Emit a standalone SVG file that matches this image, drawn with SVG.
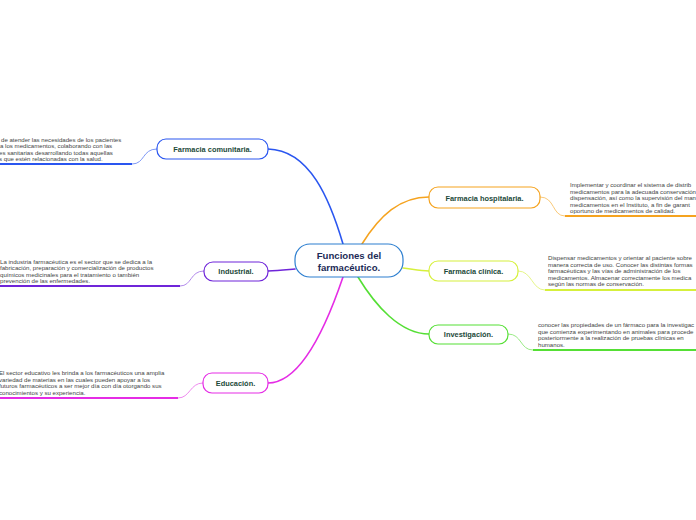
<svg xmlns="http://www.w3.org/2000/svg" width="696" height="520" viewBox="0 0 696 520">
<style>
.note{font-family:"Liberation Sans",Arial,sans-serif;font-size:6.1px;fill:#444}
.lbl{font-family:"Liberation Sans",Arial,sans-serif;font-size:7.4px;font-weight:bold;fill:#1c4a3a;text-anchor:middle}
.ctr{font-family:"Liberation Sans",Arial,sans-serif;font-size:9.6px;font-weight:bold;fill:#1d2b57;text-anchor:middle}
.box{fill:#fff;stroke-width:1.2}
.main{fill:none;stroke-width:1.6;stroke-linecap:round}
.thin{fill:none;stroke-width:0.9}
.ul{fill:none;stroke-width:1.8}
</style>
<rect width="696" height="520" fill="#fff"/>
<g id="connectors">
<path class="main" stroke="#2a56f0" d="M343,244 C330,200 310,150 268,149"/>
<path class="main" stroke="#f5a31f" d="M362,244 C380,215 400,197 429,197"/>
<path class="main" stroke="#6f25d9" d="M295,269 C285,270 278,271 268,271"/>
<path class="main" stroke="#e52ce5" d="M343,277 C325,330 300,383 268,383"/>
<path class="main" stroke="#d6f03c" d="M403,268 C412,269 420,271 429,271"/>
<path class="main" stroke="#55df35" d="M358,277 C375,305 400,334 429,334"/>
<path class="thin" stroke="#6f8cf3" d="M157,149 C142,149 145,164 132,164"/>
<path class="ul" stroke="#2a56f0" d="M0,164 L132,164"/>
<path class="thin" stroke="#a97de8" d="M204,271 C190,271 192,286 180,286"/>
<path class="ul" stroke="#6f25d9" d="M0,286 L180,286"/>
<path class="thin" stroke="#ec7cec" d="M203,383 C190,383 190,398 178,398"/>
<path class="ul" stroke="#e52ce5" d="M0,398 L178,398"/>
<path class="thin" stroke="#f8c36a" d="M540,197 C555,197 552,216 565,216"/>
<path class="ul" stroke="#f5a31f" d="M565,216 L696,216"/>
<path class="thin" stroke="#e2f47a" d="M518,271 C532,271 532,290 545,290"/>
<path class="ul" stroke="#d6f03c" d="M545,290 L696,290"/>
<path class="thin" stroke="#8de877" d="M508,334 C522,334 520,350 533,350"/>
<path class="ul" stroke="#55df35" d="M533,350 L696,350"/>
</g>
<g id="center">
<rect class="box" x="295" y="244" width="108" height="33" rx="15" stroke="#2d7fd0"/>
<text class="ctr" x="349" y="258.5">Funciones del</text>
<text class="ctr" x="349" y="270.5">farmacéutico.</text>
</g>
<g id="comunitaria">
<rect class="box" x="157" y="139" width="111" height="20" rx="9" stroke="#2a56f0"/>
<text class="lbl" x="212.5" y="152">Farmacia comunitaria.</text>
<text class="note" x="1" y="141.5">de atender las necesidades de los pacientes</text>
<text class="note" x="0" y="148">a los medicamentos, colaborando con las</text>
<text class="note" x="-1" y="154.5">es sanitarias  desarrollando todas aquellas</text>
<text class="note" x="-1" y="161">s que estén relacionadas con la salud.</text>
</g>
<g id="industrial">
<rect class="box" x="204" y="262" width="64" height="19" rx="9" stroke="#6f25d9"/>
<text class="lbl" x="236" y="274">Industrial.</text>
<text class="note" x="0" y="263.5">La industria farmacéutica es el sector que se dedica a la</text>
<text class="note" x="0" y="270">fabricación, preparación y comercialización de productos</text>
<text class="note" x="0" y="276.5">químicos medicinales para el tratamiento o también</text>
<text class="note" x="0" y="283">prevención de las enfermedades.</text>
</g>
<g id="educacion">
<rect class="box" x="203" y="373" width="65" height="20" rx="9" stroke="#e52ce5"/>
<text class="lbl" x="235.5" y="385.5">Educación.</text>
<text class="note" x="-1" y="375">El sector educativo les brinda a los farmacéuticos una amplia</text>
<text class="note" x="-1" y="381.5">variedad de materias en las cuales pueden apoyar a los</text>
<text class="note" x="-1" y="388">futuros farmacéuticos a ser mejor día con día otorgando sus</text>
<text class="note" x="-1" y="394.5">conocimientos y su experiencia.</text>
</g>
<g id="hospitalaria">
<rect class="box" x="429" y="187" width="111" height="21" rx="9" stroke="#f5a31f"/>
<text class="lbl" x="484.5" y="200.5">Farmacia hospitalaria.</text>
<text class="note" x="570" y="187">Implementar y coordinar el sistema de distrib</text>
<text class="note" x="570" y="193.5">medicamentos para la adecuada conservación</text>
<text class="note" x="570" y="200">dispensación, así como la supervisión del man</text>
<text class="note" x="570" y="206.5">medicamentos en el Instituto, a fin de garant</text>
<text class="note" x="570" y="213">oportuno de medicamentos de calidad.</text>
</g>
<g id="clinica">
<rect class="box" x="429" y="261" width="89" height="20" rx="9" stroke="#d6f03c"/>
<text class="lbl" x="473.5" y="274">Farmacia clínica.</text>
<text class="note" x="548" y="260">Dispensar medicamentos y orientar al paciente sobre</text>
<text class="note" x="548" y="266.5">manera correcta de uso. Conocer las distintas formas</text>
<text class="note" x="548" y="273">farmacéuticas y las vías de administración de los</text>
<text class="note" x="548" y="279.5">medicamentos. Almacenar correctamente los medica</text>
<text class="note" x="548" y="286">según las normas de conservación.</text>
</g>
<g id="investigacion">
<rect class="box" x="429" y="325" width="79" height="19" rx="9" stroke="#55df35"/>
<text class="lbl" x="468.5" y="337">Investigación.</text>
<text class="note" x="538" y="327">conocer las propiedades de un fármaco para la investigac</text>
<text class="note" x="538" y="333.5">que comienza experimentando en animales para procede</text>
<text class="note" x="538" y="340">posteriormente a la realización de pruebas clínicas en</text>
<text class="note" x="538" y="346.5">humanos.</text>
</g>
</svg>
